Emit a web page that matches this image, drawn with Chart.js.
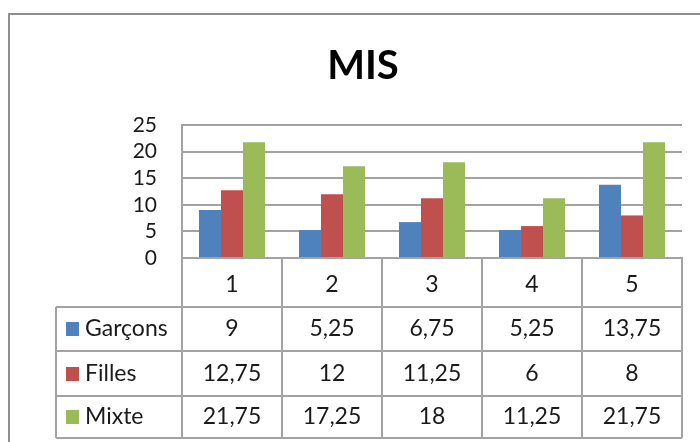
<!DOCTYPE html>
<html lang="fr">
<head>
<meta charset="utf-8">
<title>MIS</title>
<script src="https://cdn.jsdelivr.net/npm/chart.js@4.4.1/dist/chart.umd.min.js"></script>
<style>
  html, body { margin: 0; padding: 0; background: #ffffff; }
  #wrap { width: 700px; height: 442px; position: relative; }
</style>
</head>
<body>
<div id="wrap"><canvas id="chart" width="700" height="442"></canvas></div>
<script>
// Chart data
const chartTitle = 'MIS';
const categories = ['1', '2', '3', '4', '5'];
const seriesNames = ['Garçons', 'Filles', 'Mixte'];
const garcons = [9, 5.25, 6.75, 5.25, 13.75];
const filles = [12.75, 12, 11.25, 6, 8];
const mixte = [21.75, 17.25, 18, 11.25, 21.75];
const seriesColors = ['#4F81BD', '#C0504D', '#9BBB59'];
const yMax = 25;
const yStep = 5;

const seriesValues = [garcons, filles, mixte];

const LINE = '#a3a3a3';
const TEXT = '#1a1a1a';
const FONT = 'Lato, "Open Sans", sans-serif';

// French decimal comma
const fmt = v => String(v).replace('.', ',');

// Frame, title and the data table beneath the plot
const tablePlugin = {
  id: 'dataTable',
  beforeDraw(chart) {
    const ctx = chart.ctx;
    ctx.save();
    ctx.fillStyle = '#ffffff';
    ctx.fillRect(0, 0, chart.width, chart.height);
    ctx.strokeStyle = '#8f8f8f';
    ctx.lineWidth = 2;
    ctx.strokeRect(9, 14, 712, 470);
    ctx.fillStyle = '#000000';
    ctx.font = 'bold 40px ' + FONT;
    ctx.textAlign = 'center';
    ctx.textBaseline = 'middle';
    ctx.fillText(chartTitle, 363, 66);
    ctx.restore();
  },
  afterDraw(chart) {
    const ctx = chart.ctx;
    const x = chart.scales.x;
    const area = chart.chartArea;
    const n = categories.length;
    const half = (x.getPixelForValue(1) - x.getPixelForValue(0)) / 2;
    const tableLeft = 56;
    const headBottom = 307;
    const rowH = [44, 45, 42];
    const rowsY = [headBottom];
    rowH.forEach(h => rowsY.push(rowsY[rowsY.length - 1] + h));
    const tableBottom = rowsY[rowsY.length - 1];

    ctx.save();
    ctx.strokeStyle = LINE;
    ctx.lineWidth = 2;
    ctx.beginPath();
    // column separators
    for (let i = 0; i <= n; i++) {
      const px = Math.round(i < n ? x.getPixelForValue(i) - half : x.getPixelForValue(n - 1) + half);
      ctx.moveTo(px, area.bottom);
      ctx.lineTo(px, tableBottom);
    }
    // left edge of the legend column
    ctx.moveTo(tableLeft, headBottom);
    ctx.lineTo(tableLeft, tableBottom);
    // row separators
    const right = Math.round(x.getPixelForValue(n - 1) + half);
    rowsY.forEach(y => {
      ctx.moveTo(tableLeft, y);
      ctx.lineTo(right, y);
    });
    ctx.stroke();

    // rows: legend key, series name, values
    ctx.font = '23px ' + FONT;
    ctx.textBaseline = 'middle';
    seriesNames.forEach((name, r) => {
      const cy = (rowsY[r] + rowsY[r + 1]) / 2;
      ctx.fillStyle = seriesColors[r];
      ctx.fillRect(66, Math.round(cy - 7), 13, 14);
      ctx.fillStyle = TEXT;
      ctx.textAlign = 'left';
      ctx.fillText(name, 85, cy);
      ctx.textAlign = 'center';
      seriesValues[r].forEach((v, i) => {
        ctx.fillText(fmt(v), x.getPixelForValue(i), cy);
      });
    });
    ctx.restore();
  }
};

new Chart(document.getElementById('chart'), {
  type: 'bar',
  data: {
    labels: categories,
    datasets: seriesNames.map((name, i) => ({
      label: name,
      data: seriesValues[i],
      backgroundColor: seriesColors[i],
      borderWidth: 0,
      categoryPercentage: 0.66,
      barPercentage: 1.0
    }))
  },
  options: {
    responsive: false,
    animation: false,
    devicePixelRatio: 1,
    layout: { padding: { left: 0, right: 18, top: 125, bottom: 0 } },
    plugins: {
      legend: { display: false },
      title: { display: false },
      tooltip: { enabled: false }
    },
    scales: {
      x: {
        grid: { display: false, drawTicks: false },
        border: { display: true, color: LINE, width: 2 },
        ticks: {
          color: TEXT,
          font: { family: FONT, size: 23 },
          padding: 13,
          maxRotation: 0
        },
        afterFit(s) { s.height = 442 - 258; }
      },
      y: {
        min: 0,
        max: yMax,
        grid: { color: LINE, lineWidth: 2, drawTicks: false },
        border: { display: true, color: LINE, width: 2 },
        ticks: {
          stepSize: yStep,
          autoSkip: false,
          color: TEXT,
          font: { family: FONT, size: 21 },
          padding: 25
        },
        afterFit(s) { s.width = 182; }
      }
    }
  },
  plugins: [tablePlugin]
});
</script>
</body>
</html>
